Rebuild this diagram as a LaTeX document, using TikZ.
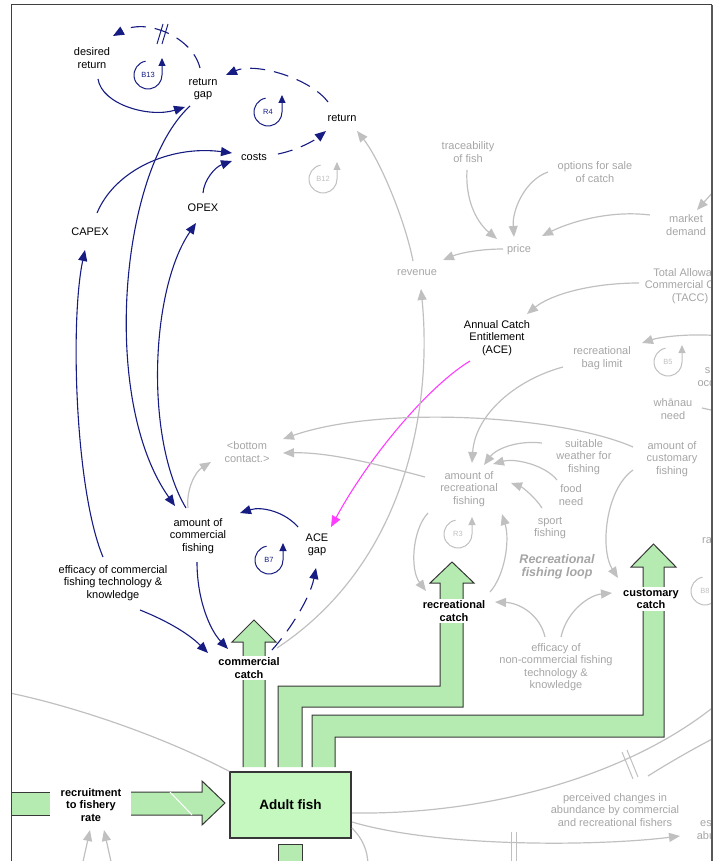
\documentclass[tikz,border=0pt]{standalone}
\usepackage{fontspec}
\setmainfont{Liberation Sans}
\usetikzlibrary{arrows.meta}
\definecolor{navyc}{RGB}{22,28,130}
\definecolor{grayline}{RGB}{192,192,192}
\definecolor{graytext}{RGB}{165,165,165}
\definecolor{pipegreen}{RGB}{181,235,176}
\definecolor{stockgreen}{RGB}{196,248,190}
\definecolor{edgec}{RGB}{55,55,55}
\definecolor{magentac}{RGB}{255,60,255}
\tikzset{
  lbl/.style={font=\fontsize{11}{12.5}\selectfont, align=center, inner sep=1pt, text=black},
  glbl/.style={lbl, text=graytext},
  flowlbl/.style={font=\bfseries\fontsize{11}{12.5}\selectfont, align=center, fill=white, inner sep=2pt, text=black},
  nav/.style={draw=navyc, line width=1.1pt, -{Triangle[length=11pt,width=9pt]}},
  navdash/.style={nav, dash pattern=on 15pt off 9pt},
  gry/.style={draw=grayline, line width=1.2pt, -{Triangle[length=11pt,width=9pt]}},
  gryline/.style={draw=grayline, line width=1.2pt},
  pipeedge/.style={draw=edgec, line width=1pt},
  delaybar/.style={line width=1pt},
  pics/loopmark/.style args={#1/#2}{code={
    \draw[draw=#2, line width=1pt, -{Triangle[length=8pt,width=7pt]}]
      (100:14) arc[start angle=100, end angle=360, radius=14] -- (14,17);
    \node[text=#2, font=\fontsize{7.5}{8}\selectfont, inner sep=0pt] at (0,0) {#1};
  }},
}
\begin{document}
\begin{tikzpicture}[x=1pt,y=1pt]
\useasboundingbox (0,0) rectangle (719,-861);
\begin{scope}
\clip (11,-5) rectangle (712,-861);

% ---------- stock and flow pipes ----------
% recruitment inflow
\fill[pipegreen] (12,-792) rectangle (50,-815);
\draw[pipeedge] (12,-792) -- (50,-792) (12,-815) -- (50,-815);
\fill[pipegreen] (131,-792) -- (202,-792) -- (202,-781) -- (225,-803) -- (202,-825) -- (202,-815) -- (131,-815) -- cycle;
\draw[pipeedge] (131,-792) -- (202,-792) -- (202,-781) -- (225,-803) -- (202,-825) -- (202,-815) -- (131,-815);
\draw[white, line width=1pt] (170,-792) -- (192,-815);
% commercial catch outflow
\fill[pipegreen] (243,-767) -- (243,-642) -- (232,-642) -- (254,-620) -- (276,-642) -- (265,-642) -- (265,-767) -- cycle;
\draw[pipeedge] (243,-767) -- (243,-642) -- (232,-642) -- (254,-620) -- (276,-642) -- (265,-642) -- (265,-767);
% recreational catch outflow
\fill[pipegreen] (278,-767) -- (278,-686) -- (440,-686) -- (440,-583) -- (430,-583) -- (452,-562) -- (474,-583) -- (463,-583) -- (463,-707) -- (302,-707) -- (302,-767) -- cycle;
\draw[pipeedge] (278,-767) -- (278,-686) -- (440,-686) -- (440,-583) -- (430,-583) -- (452,-562) -- (474,-583) -- (463,-583) -- (463,-707) -- (302,-707) -- (302,-767);
% customary catch outflow
\fill[pipegreen] (312,-767) -- (312,-715) -- (643,-715) -- (643,-567) -- (631,-567) -- (653.5,-544) -- (676,-567) -- (664,-567) -- (664,-737) -- (335,-737) -- (335,-767) -- cycle;
\draw[pipeedge] (312,-767) -- (312,-715) -- (643,-715) -- (643,-567) -- (631,-567) -- (653.5,-544) -- (676,-567) -- (664,-567) -- (664,-737) -- (335,-737) -- (335,-767);
% outflow below the stock
\fill[pipegreen] (278,-844) rectangle (302,-870);
\draw[pipeedge] (278,-870) -- (278,-844) -- (302,-844) -- (302,-870);

% stock
\node[draw=edgec, line width=1.2pt, fill=stockgreen, minimum width=121pt, minimum height=66pt, inner sep=0pt,
      font=\bfseries\fontsize{13.5}{15}\selectfont] (adult) at (290.5,-805) {Adult fish};

% ---------- variables ----------
\node[lbl] (desired) at (92,-58) {desired\\return};
\node[lbl] (rgap) at (203,-89) {return\\gap};
\node[lbl] (ret) at (342,-118) {return};
\node[lbl] (costs) at (254,-157) {costs};
\node[lbl] (opex) at (203,-208) {OPEX};
\node[lbl] (capex) at (90,-232) {CAPEX};
\node[lbl] (acf) at (198,-536) {amount of\\commercial\\fishing};
\node[lbl] (acegap) at (317,-545) {ACE\\gap};
\node[lbl] (effc) at (113,-583) {efficacy of commercial\\fishing technology \&\\knowledge};
\node[lbl] (ace) at (497,-338) {Annual Catch\\Entitlement\\(ACE)};

\node[flowlbl] (ccatch) at (249,-668) {commercial\\catch};
\node[flowlbl] (rcatch) at (454,-611) {recreational\\catch};
\node[flowlbl] (ucatch) at (651,-599) {customary\\catch};
\node[flowlbl, inner sep=5pt] (recr) at (91,-805) {recruitment\\to fishery\\rate};

\node[glbl] (trace) at (468,-152) {traceability\\of fish};
\node[glbl] (options) at (595,-172) {options for sale\\of catch};
\node[glbl] (market) at (686,-225) {market\\demand};
\node[glbl] (price) at (519,-250) {price};
\node[glbl] (revenue) at (417,-273) {revenue};
\node[glbl] (tacc) at (690,-286) {Total Allowable\\Commercial Catch\\(TACC)};
\node[glbl] (bag) at (602,-358) {recreational\\bag limit};
\node[glbl] (special) at (722,-376) {special\\occasions};
\node[glbl] (whanau) at (673,-409) {whānau\\need};
\node[glbl] (custf) at (672,-459) {amount of\\customary\\fishing};
\node[glbl] (bottom) at (247,-452) {<bottom\\contact.>};
\node[glbl] (suitable) at (584,-457) {suitable\\weather for\\fishing};
\node[glbl] (food) at (571,-495) {food\\need};
\node[glbl] (amtrec) at (469,-489) {amount of\\recreational\\fishing};
\node[glbl] (sport) at (550,-528) {sport\\fishing};
\node[glbl, font=\bfseries\itshape\fontsize{12.5}{13}\selectfont] (recloop) at (557,-567) {Recreational\\fishing loop};
\node[glbl] (effnc) at (556,-667) {efficacy of\\non-commercial fishing\\technology \&\\knowledge};
\node[glbl] (perceived) at (615,-810) {perceived changes in\\abundance by commercial\\and recreational fishers};
\node[glbl] (estab) at (724,-829) {estimated\\abundance};
\node[glbl, anchor=west] (rate) at (701,-540) {rate};

% off-frame ends
\coordinate (mdsrc) at (722,-182);
\coordinate (bagsrc) at (722,-336);
\coordinate (lsrc) at (5,-692);
\coordinate (rsrc) at (722,-700);
\coordinate (pcA) at (648,-776);
\coordinate (pcB) at (722,-734);
\coordinate (dsrc) at (368,-866);
\coordinate (rsA) at (82,-866);
\coordinate (rsB) at (112,-866);
\coordinate (whA) at (702,-408);
\coordinate (whB) at (720,-412);

% ---------- loop markers ----------
\pic at (148,-75) {loopmark={B13/navyc}};
\pic at (268,-112) {loopmark={R4/navyc}};
\pic at (269,-560) {loopmark={B7/navyc}};
\pic at (323,-179) {loopmark={B12/grayline}};
\pic at (458,-534) {loopmark={R3/grayline}};
\pic at (668,-362) {loopmark={B5/grayline}};
\pic at (705,-591) {loopmark={B8/grayline}};

% ---------- commercial (navy) links ----------
\draw[nav] ([shift={(6,-21)}]desired.center) .. controls (102,-105) and (150,-118) .. ([shift={(-18,-18)}]rgap.center);
\draw[navdash] ([shift={(-3,21)}]rgap.center) .. controls (192,-36) and (145,-18) .. ([shift={(21,22)}]desired.center);
\draw[navyc, delaybar] (157,-44) -- (163,-24) (162,-44) -- (168,-24);
\draw[navdash] ([shift={(-14,16)}]ret.center) .. controls (310,-78) and (255,-62) .. ([shift={(23,14)}]rgap.center);
\draw[navdash] ([shift={(24,3)}]costs.center) .. controls (298,-150) and (315,-140) .. ([shift={(-16,-13)}]ret.center);
\draw[nav] ([shift={(7,19)}]capex.center) .. controls (115,-170) and (170,-145) .. ([shift={(-22,4)}]costs.center);
\draw[nav] ([shift={(0,15)}]opex.center) .. controls (204,-180) and (215,-167) .. ([shift={(-22,-4)}]costs.center);
\draw[nav] ([shift={(-12,28)}]acf.center) .. controls (145,-440) and (150,-290) .. ([shift={(-7,-15)}]opex.center);
\draw[nav] ([shift={(-13,-17)}]rgap.center) .. controls (120,-170) and (100,-400) .. ([shift={(-23,30)}]acf.center);
\draw[nav] ([shift={(-10,26)}]effc.center) .. controls (75,-490) and (70,-320) .. ([shift={(-5,-18)}]capex.center);
\draw[nav] ([shift={(-19,18)}]acegap.center) .. controls (285,-512) and (262,-506) .. ([shift={(42,23)}]acf.center);
\draw[nav] ([shift={(-1,-26)}]acf.center) .. controls (197,-600) and (210,-630) .. ([shift={(-21,19)}]ccatch.center);
\draw[nav] ([shift={(27,-27)}]effc.center) .. controls (170,-622) and (190,-635) .. ([shift={(-41,15)}]ccatch.center);
\draw[navdash] ([shift={(23,18)}]ccatch.center) .. controls (290,-630) and (310,-598) .. ([shift={(-1,-23)}]acegap.center);
\draw[nav, draw=magentac] ([shift={(-27,-23)}]ace.center) .. controls (430,-385) and (370,-455) .. ([shift={(14,18)}]acegap.center);

% ---------- other (grey) links ----------
\draw[gry] ([shift={(-4,12)}]revenue.center) .. controls (405,-220) and (380,-160) .. ([shift={(15,-13)}]ret.center);
\draw[gry] ([shift={(-16,1)}]price.center) .. controls (480,-249) and (460,-253) .. ([shift={(26,13)}]revenue.center);
\draw[gry] ([shift={(-1,-18)}]trace.center) .. controls (465,-205) and (480,-225) .. ([shift={(-22,11)}]price.center);
\draw[gry] ([shift={(-47,0)}]options.center) .. controls (525,-180) and (512,-210) .. ([shift={(-5,13)}]price.center);
\draw[gry] ([shift={(-36,10)}]market.center) .. controls (610,-210) and (570,-222) .. ([shift={(23,14)}]price.center);
\draw[gry] (mdsrc) -- ([shift={(11,15)}]market.center);
\draw[gry] ([shift={(-51,3)}]tacc.center) .. controls (590,-283) and (550,-295) .. ([shift={(30,24)}]ace.center);
\draw[gry] (bagsrc) .. controls (690,-333) and (660,-337) .. ([shift={(40,15)}]bag.center);
\draw[gry] ([shift={(-39,-9)}]bag.center) .. controls (515,-380) and (475,-415) .. ([shift={(3,26)}]amtrec.center);
\draw[gry] ([shift={(-42,14)}]suitable.center) .. controls (515,-440) and (495,-450) .. ([shift={(15,24)}]amtrec.center);
\draw[gry] ([shift={(-14,15)}]food.center) .. controls (545,-465) and (515,-458) .. ([shift={(24,25)}]amtrec.center);
\draw[gry] ([shift={(-8,20)}]sport.center) .. controls (535,-497) and (522,-487) .. ([shift={(42,6)}]amtrec.center);
\draw[gry] ([shift={(-41,-24)}]amtrec.center) .. controls (412,-530) and (410,-570) .. ([shift={(-28,20)}]rcatch.center);
\draw[gry] ([shift={(36,19)}]rcatch.center) .. controls (505,-575) and (510,-540) .. ([shift={(33,-25)}]amtrec.center);
\draw[gry] ([shift={(-39,-11)}]custf.center) .. controls (605,-490) and (600,-550) .. ([shift={(-33,21)}]ucatch.center);
\draw[gry] ([shift={(-11,30)}]effnc.center) .. controls (540,-615) and (520,-603) .. ([shift={(41,9)}]rcatch.center);
\draw[gry] ([shift={(5,30)}]effnc.center) .. controls (567,-610) and (590,-595) .. ([shift={(-39,6)}]ucatch.center);
\draw[gry] ([shift={(-39,12)}]custf.center) .. controls (560,-415) and (380,-405) .. ([shift={(36,13)}]bottom.center);
\draw[gry] ([shift={(-44,12)}]amtrec.center) .. controls (380,-465) and (330,-452) .. ([shift={(36,-1)}]bottom.center);
\draw[gry] ([shift={(-10,28)}]acf.center) .. controls (186,-490) and (195,-472) .. ([shift={(-36,-10)}]bottom.center);
\draw[gry] ([shift={(28,20)}]ccatch.center) .. controls (410,-560) and (432,-400) .. ([shift={(4,-16)}]revenue.center);
\draw[gryline] (whA) -- (whB);
\draw[gryline] (lsrc) .. controls (70,-705) and (160,-735) .. (adult.north west);
\draw[gryline] ([shift={(61.5,-8)}]adult.center) .. controls (500,-815) and (640,-770) .. (rsrc);
\draw[grayline, delaybar] (622,-752) -- (633,-779) (627,-750) -- (638,-777);
\draw[gryline] (pcA) .. controls (670,-762) and (700,-745) .. (pcB);
\draw[gry] ([shift={(61.5,-17)}]adult.center) .. controls (440,-848) and (600,-846) .. ([shift={(-44,-7)}]estab.center);
\draw[grayline, delaybar] (511,-832) -- (511,-866) (516,-832) -- (516,-866);
\draw[gryline] ([shift={(61.5,-23)}]adult.center) .. controls (362,-838) and (368,-850) .. (dsrc);
\draw[gry] (rsA) -- ([shift={(-1,-25)}]recr.center);
\draw[gry] (rsB) -- ([shift={(13,-25)}]recr.center);
\end{scope}

% frame
\draw[black!75, line width=1pt] (11,-861) -- (11,-5) -- (712,-5);
\draw[black!65, line width=1.6pt] (712,-5) -- (712,-861);
\end{tikzpicture}
\end{document}
